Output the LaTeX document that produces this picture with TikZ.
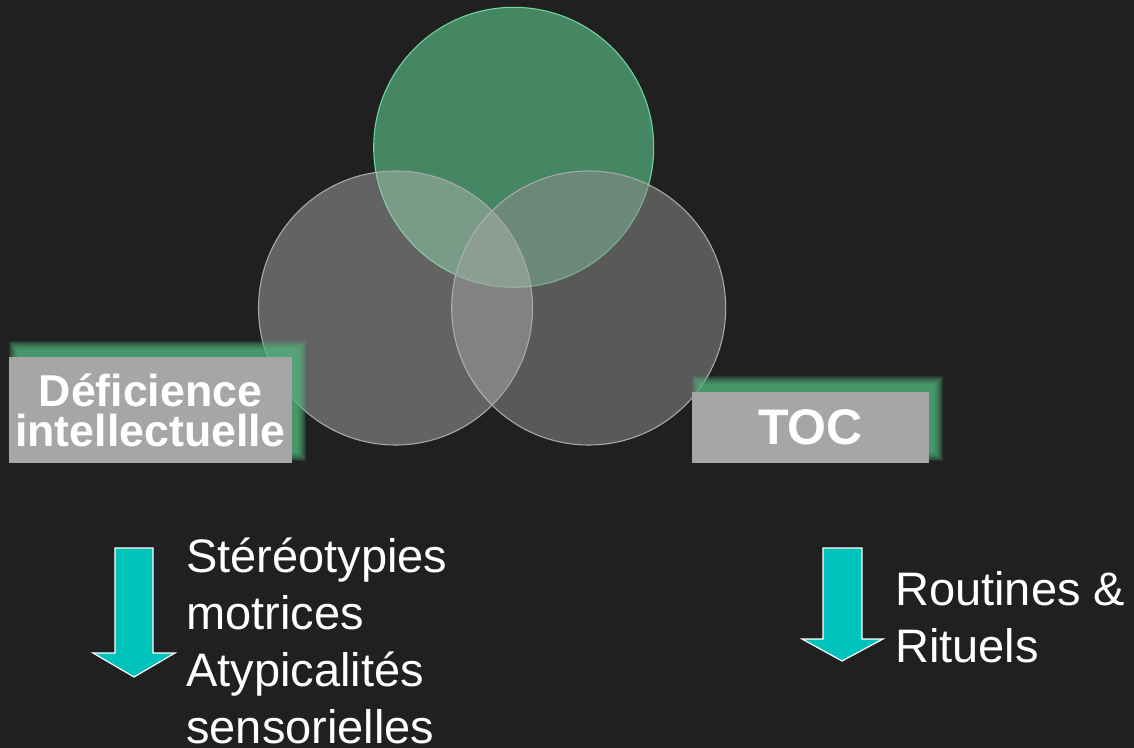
\documentclass[tikz,border=0pt]{standalone}
\usepackage{fontspec}
\setmainfont{Liberation Sans}

\definecolor{fond}{RGB}{32,32,32}
\definecolor{vert}{RGB}{70,135,99}
\definecolor{bordvert}{RGB}{112,214,158}
\definecolor{grisg}{RGB}{182,182,182}
\definecolor{grisd}{RGB}{140,140,140}
\definecolor{bordgris}{RGB}{170,170,170}
\definecolor{lueur}{RGB}{84,184,126}
\definecolor{boitegris}{RGB}{166,166,166}
\definecolor{turquoise}{RGB}{0,196,188}

\begin{document}
\begin{tikzpicture}[x=0.75pt,y=-0.75pt,
  boite/.style={fill=boitegris, text=white, inner sep=0pt, align=center,
    font=\bfseries\fontsize{33.5}{30}\selectfont},
  fleche/.style={fill=turquoise, draw=white, line width=0.9pt, line join=miter},
  liste/.style={text=white, inner sep=0pt, align=left,
    font=\fontsize{35.25}{42.75}\selectfont}]
\fill[fond] (0,0) rectangle (1134,748);

% les trois cercles
\fill[vert] (513.7,147.3) circle [radius=140];
\draw[bordvert, line width=0.8pt] (513.7,147.3) circle [radius=140];
\fill[grisd, fill opacity=0.53] (588.7,308) circle [radius=137];
\draw[bordgris, line width=0.8pt] (588.7,308) circle [radius=137];
\fill[grisg, fill opacity=0.45] (395.5,308) circle [radius=137];
\draw[bordgris, line width=0.8pt] (395.5,308) circle [radius=137];

% lueur verte derriere les etiquettes
\foreach \xa/\ya/\xb/\yb in {9/357/292/463, 692/392/929/463} {
  \foreach \d in {-2,...,7}
    \fill[lueur, opacity=0.15] (\xa+7-\d,\ya-9-\d) rectangle (\xb+7+\d,\yb-9+\d);
}

\node[boite, minimum width=212.25pt, minimum height=79.5pt] (deficience) at (150.5,410) {D\'eficience\\intellectuelle};
\node[boite, minimum width=177.75pt, minimum height=53.25pt,
  font=\bfseries\fontsize{37.5}{40}\selectfont] (toc) at (810.5,427.5) {TOC};

% fleches
\draw[fleche] (115,548) -- (153,548) -- (153,653) -- (175,653) -- (134,677) -- (93,653) -- (115,653) -- cycle;
\draw[fleche] (823,548) -- (862,548) -- (862,639) -- (883,639) -- (842,661) -- (802,639) -- (823,639) -- cycle;

\node[liste, anchor=base west] (stereo) at (186,743) {St\'er\'eotypies\\motrices\\Atypicalit\'es\\sensorielles};
\node[liste, anchor=base west] (routines) at (895,662) {Routines \&\\Rituels};
\end{tikzpicture}
\end{document}
